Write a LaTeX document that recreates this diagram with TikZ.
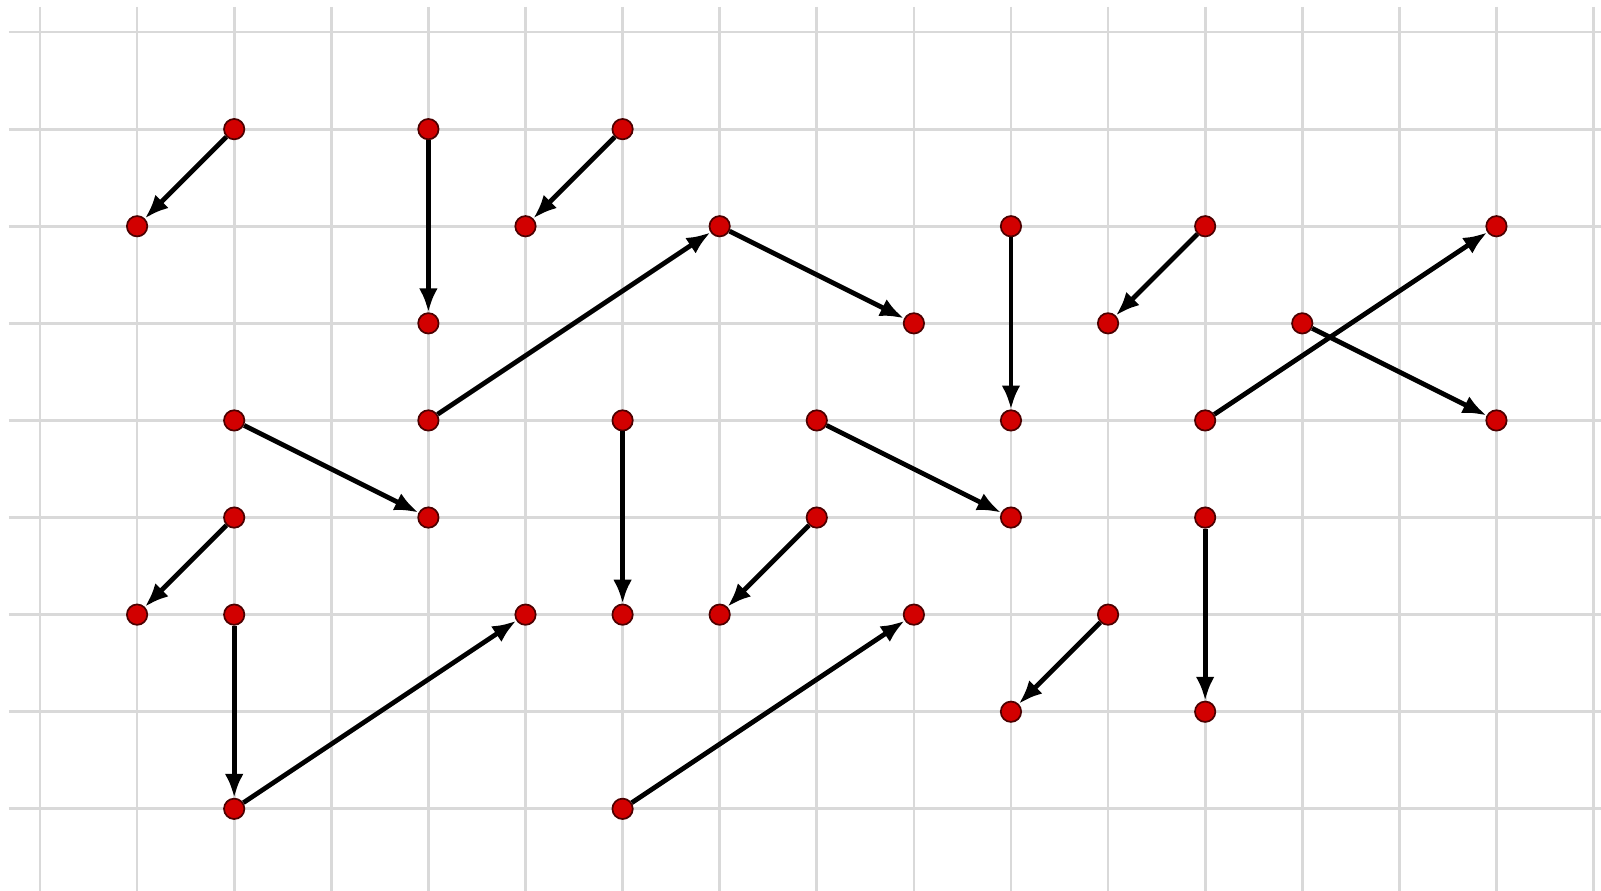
\documentclass[tikz,border=0pt]{standalone}
\usepackage{tikz}
\usetikzlibrary{arrows.meta}
\usepackage{xcolor}
\definecolor{dotred}{RGB}{210,0,0}

\begin{document}
\begin{tikzpicture}[scale=1.0,
    dot/.style={circle, fill=dotred, draw=black!70!red, line width=0.5pt, inner sep=0pt, minimum size=0.21cm},
    arr/.style={-{Latex[length=7pt, width=5.5pt]}, line width=1.4pt, black}]
    \useasboundingbox (-0.412,0.33) rectangle (16.077,-8.846);

    % background grid
    \foreach \r in {0,...,8}
        \draw[gray!30, line width=0.8pt] (-0.32,-\r) -- (16.077,-\r);
    \foreach \c in {0,...,16}
        \draw[gray!30, line width=0.8pt] (\c,0.26) -- (\c,-8.846);

    % points (column, row from top)
    \foreach \c/\r in {2/1, 4/1, 6/1, 1/2, 5/2, 7/2, 10/2, 12/2, 15/2,
                       4/3, 9/3, 11/3, 13/3,
                       2/4, 4/4, 6/4, 8/4, 10/4, 12/4, 15/4,
                       2/5, 4/5, 8/5, 10/5, 12/5,
                       1/6, 2/6, 5/6, 6/6, 7/6, 9/6, 11/6,
                       10/7, 12/7, 2/8, 6/8}
        \node[dot] (p\c-\r) at (\c,-\r) {};

    % moves
    \foreach \a/\b in {2-1/1-2, 4-1/4-3, 6-1/5-2, 4-4/7-2, 7-2/9-3,
                       10-2/10-4, 12-2/11-3, 12-4/15-2, 13-3/15-4,
                       2-4/4-5, 6-4/6-6, 8-4/10-5, 2-5/1-6, 8-5/7-6,
                       2-6/2-8, 2-8/5-6, 6-8/9-6, 11-6/10-7, 12-5/12-7}
        \draw[arr] (p\a) -- (p\b);
\end{tikzpicture}
\end{document}
